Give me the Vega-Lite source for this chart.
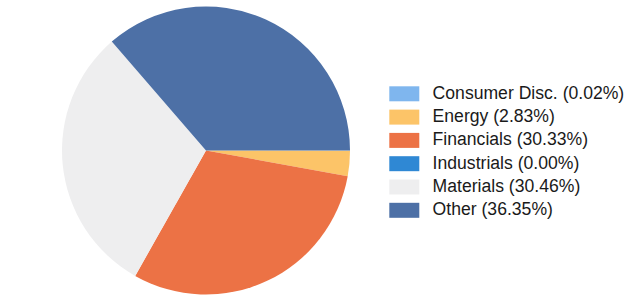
{
  "$schema": "https://vega.github.io/schema/vega-lite/v6.json",
  "width": 290,
  "height": 289,
  "autosize": {"type": "none"},
  "padding": {"left": 61, "top": 6, "right": 277, "bottom": 0},
  "background": "white",
  "data": {
    "values": [
      {"sector": "Consumer Disc. (0.02%)", "value": 0.02, "order": 1},
      {"sector": "Energy (2.83%)", "value": 2.83, "order": 2},
      {"sector": "Financials (30.33%)", "value": 30.33, "order": 3},
      {"sector": "Industrials (0.00%)", "value": 0.0, "order": 4},
      {"sector": "Materials (30.46%)", "value": 30.46, "order": 5},
      {"sector": "Other (36.35%)", "value": 36.35, "order": 6}
    ]
  },
  "mark": {"type": "arc", "outerRadius": 144},
  "encoding": {
    "theta": {
      "field": "value",
      "type": "quantitative",
      "stack": true,
      "scale": {"range": [1.5708, 7.854]}
    },
    "order": {"field": "order", "type": "quantitative"},
    "color": {
      "field": "sector",
      "type": "nominal",
      "sort": {"field": "order"},
      "scale": {
        "domain": ["Consumer Disc. (0.02%)", "Energy (2.83%)", "Financials (30.33%)", "Industrials (0.00%)", "Materials (30.46%)", "Other (36.35%)"],
        "range": ["#7fb6ee", "#fcc468", "#ec7245", "#2f88d4", "#eeeeef", "#4d70a6"]
      },
      "legend": {
        "title": null,
        "orient": "none",
        "legendX": 334.5,
        "legendY": 79,
        "padding": 0,
        "symbolType": "M-2,-1H2V1H-2Z",
        "symbolSize": 225,
        "symbolStrokeWidth": 0,
        "labelOffset": 19.5,
        "labelFont": "Liberation Sans",
        "labelFontSize": 17.6,
        "labelColor": "#1a1a1a",
        "rowPadding": 4.3,
        "labelLimit": 300
      }
    }
  },
  "config": {"view": {"stroke": null}}
}
